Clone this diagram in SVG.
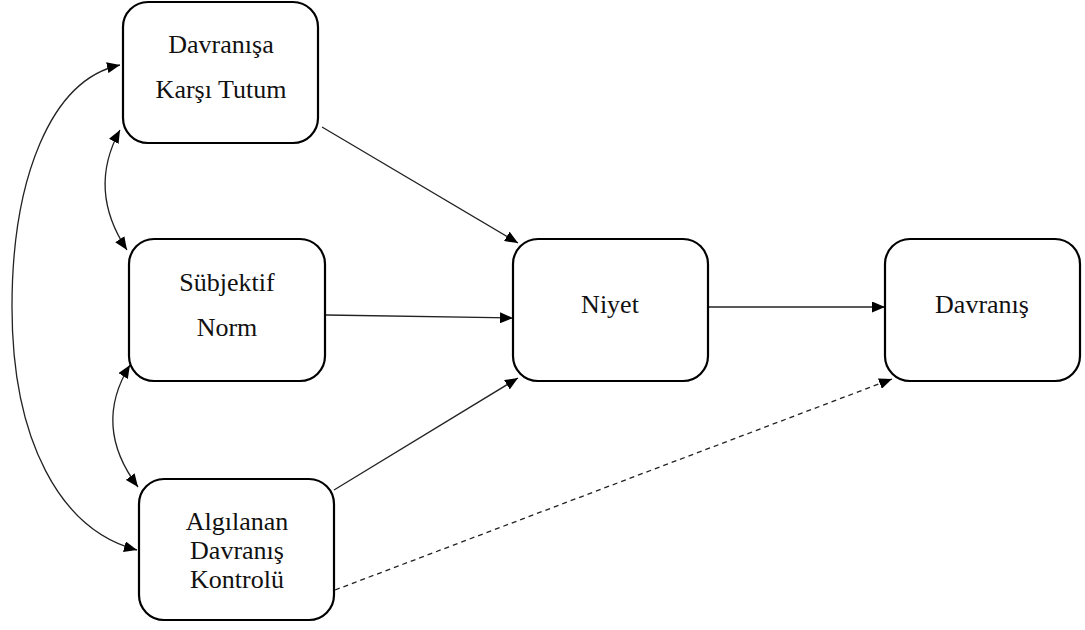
<svg xmlns="http://www.w3.org/2000/svg" width="1085" height="630" viewBox="0 0 1085 630">
<style>
.box{fill:#fff;stroke:#000;stroke-width:2.2}
.t{font-family:'Liberation Serif','DejaVu Serif','Times New Roman',serif;font-size:26px;fill:#111;text-anchor:middle}
.c{fill:none;stroke:#222;stroke-width:1.3}
.d{stroke-dasharray:5 4}
</style>
<defs>
<marker id="ah" viewBox="0 0 13 11" refX="13" refY="5.5" markerWidth="13" markerHeight="11" markerUnits="userSpaceOnUse" orient="auto-start-reverse">
<path d="M0,0 L13,5.5 L0,11 Z" fill="#000"/>
</marker>
</defs>
<rect width="1085" height="630" fill="#fff"/>
<g id="connectors">
<line class="c" x1="322" y1="127" x2="518" y2="243" marker-end="url(#ah)"/>
<line class="c" x1="326" y1="315" x2="513" y2="318" marker-end="url(#ah)"/>
<line class="c" x1="334" y1="490" x2="518" y2="378" marker-end="url(#ah)"/>
<line class="c" x1="708" y1="307" x2="885" y2="307" marker-end="url(#ah)"/>
<line class="c d" x1="335" y1="590" x2="892" y2="379" marker-end="url(#ah)"/>
<path class="c" d="M120,130 Q87,190 127,250" marker-start="url(#ah)" marker-end="url(#ah)"/>
<path class="c" d="M130,365 Q92,426 138,487" marker-start="url(#ah)" marker-end="url(#ah)"/>
<path class="c" d="M120,65 C50,80 12,180 12,307 C12,440 60,530 137,550" marker-start="url(#ah)" marker-end="url(#ah)"/>
</g>
<g id="node-tutum">
<rect class="box" x="123" y="2" width="195" height="141" rx="25"/>
<text class="t" x="221" y="53" font-family="Liberation Serif, serif">Davranışa</text>
<text class="t" x="221" y="98" font-family="Liberation Serif, serif">Karşı Tutum</text>
</g>
<g id="node-norm">
<rect class="box" x="129" y="239" width="196" height="142" rx="25"/>
<text class="t" x="227" y="291">Sübjektif</text>
<text class="t" x="227" y="336">Norm</text>
</g>
<g id="node-kontrol">
<rect class="box" x="139" y="479" width="195" height="141" rx="25"/>
<text class="t" x="237" y="530">Algılanan</text>
<text class="t" x="237" y="559">Davranış</text>
<text class="t" x="237" y="588">Kontrolü</text>
</g>
<g id="node-niyet">
<rect class="box" x="513" y="239" width="195" height="142" rx="25"/>
<text class="t" x="610" y="313">Niyet</text>
</g>
<g id="node-davranis">
<rect class="box" x="885" y="239" width="195" height="142" rx="25"/>
<text class="t" x="982" y="313">Davranış</text>
</g>
</svg>
